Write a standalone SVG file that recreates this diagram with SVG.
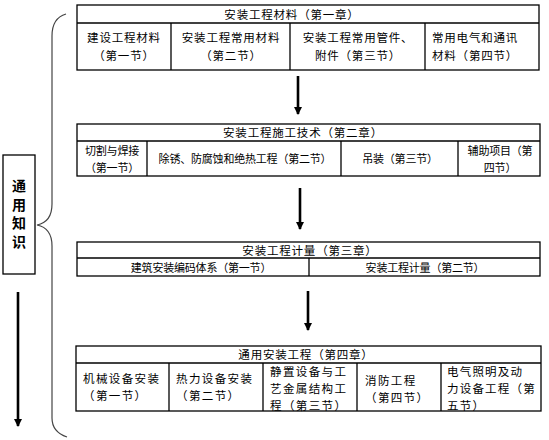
<svg xmlns="http://www.w3.org/2000/svg" width="549" height="440" viewBox="0 0 549 440">
<style>
.box{fill:#fff;stroke:#000;stroke-width:1.3}
.ln{stroke:#000;stroke-width:1.3;fill:none}
text{font-family:"Noto Sans CJK SC","Liberation Sans",sans-serif;font-size:11.5px;letter-spacing:0.8px;fill:#000;dominant-baseline:central}
.c{text-anchor:middle}
.n{font-size:11px;letter-spacing:-0.2px}
.w{letter-spacing:1.4px}
.w2{letter-spacing:1.2px}
.b{font-weight:bold;font-size:14px;writing-mode:vertical-rl;letter-spacing:4.5px;text-anchor:middle;dominant-baseline:auto}
.arr{stroke:#000;stroke-width:2.6;fill:none}
</style>
<defs>
<marker id="ah" viewBox="0 0 8 8" refX="7" refY="4" markerWidth="8" markerHeight="8" markerUnits="userSpaceOnUse" orient="auto">
<path d="M0,0 L8,4 L0,8 Z" fill="#000"/>
</marker>
</defs>

<g id="ch1">
<rect class="box" x="77" y="5" width="462" height="65"/>
<line class="ln" x1="77" y1="23" x2="539" y2="23"/>
<line class="ln" x1="171" y1="23" x2="171" y2="70"/>
<line class="ln" x1="290" y1="23" x2="290" y2="70"/>
<line class="ln" x1="425" y1="23" x2="425" y2="70"/>
<text class="c" x="292" y="14">安装工程材料（第一章）</text>
<text class="c"><tspan x="124" y="37">建设工程材料</tspan><tspan x="124" y="55">（第一节）</tspan></text>
<text class="c"><tspan x="231" y="37">安装工程常用材料</tspan><tspan x="231" y="55">（第二节）</tspan></text>
<text class="c"><tspan x="358" y="37">安装工程常用管件、</tspan><tspan x="358" y="55">附件（第三节）</tspan></text>
<text><tspan x="432" y="37">常用电气和通讯</tspan><tspan x="432" y="55">材料（第四节）</tspan></text>
</g>

<g id="ch2">
<rect class="box" x="77" y="124" width="463" height="52"/>
<line class="ln" x1="77" y1="141" x2="540" y2="141"/>
<line class="ln" x1="147" y1="141" x2="147" y2="176"/>
<line class="ln" x1="341" y1="141" x2="341" y2="176"/>
<line class="ln" x1="458" y1="141" x2="458" y2="176"/>
<text class="c" x="303" y="132">安装工程施工技术（第二章）</text>
<text class="c n"><tspan x="112" y="150">切割与焊接</tspan><tspan x="112" y="167">（第一节）</tspan></text>
<text class="c n" x="245" y="158">除锈、防腐蚀和绝热工程（第二节）</text>
<text class="c n" x="400" y="158">吊装（第三节）</text>
<text class="c n"><tspan x="500" y="150">辅助项目（第</tspan><tspan x="500" y="167">四节）</tspan></text>
</g>

<g id="ch3">
<rect class="box" x="77" y="242" width="463" height="34"/>
<line class="ln" x1="77" y1="258" x2="540" y2="258"/>
<line class="ln" x1="309" y1="258" x2="309" y2="276"/>
<text class="c" x="310" y="250">安装工程计量（第三章）</text>
<text class="c n" x="201" y="267">建筑安装编码体系（第一节）</text>
<text class="c n" x="425" y="267">安装工程计量（第二节）</text>
</g>

<g id="ch4">
<rect class="box" x="76" y="346" width="465" height="65"/>
<line class="ln" x1="76" y1="363" x2="541" y2="363"/>
<line class="ln" x1="169" y1="363" x2="169" y2="411"/>
<line class="ln" x1="263" y1="363" x2="263" y2="411"/>
<line class="ln" x1="357" y1="363" x2="357" y2="411"/>
<line class="ln" x1="441" y1="363" x2="441" y2="411"/>
<text class="c" x="306" y="354">通用安装工程（第四章）</text>
<text class="w"><tspan x="83" y="378">机械设备安装</tspan><tspan x="83" y="395">（第一节）</tspan></text>
<text class="w"><tspan x="176" y="378">热力设备安装</tspan><tspan x="176" y="395">（第二节）</tspan></text>
<text class="w"><tspan x="270" y="371">静置设备与工</tspan><tspan x="270" y="388">艺金属结构工</tspan><tspan x="270" y="405">程（第三节）</tspan></text>
<text class="w"><tspan x="365" y="380">消防工程</tspan><tspan x="365" y="397">（第四节）</tspan></text>
<text class="w2"><tspan x="447" y="371">电气照明及动</tspan><tspan x="447" y="388">力设备工程（第</tspan><tspan x="447" y="405">五节）</tspan></text>
</g>

<g id="general">
<rect class="box" x="3" y="155" width="32" height="119"/>
<text class="b" x="19" y="216">通用知识</text>
</g>

<g id="connectors">
<line class="arr" x1="298" y1="76" x2="298" y2="114" marker-end="url(#ah)"/>
<line class="arr" x1="300" y1="188" x2="300" y2="229" marker-end="url(#ah)"/>
<line class="arr" x1="308" y1="291" x2="308" y2="330" marker-end="url(#ah)"/>
<line class="arr" x1="18" y1="292" x2="18" y2="426" marker-end="url(#ah)"/>
<path d="M66,14 Q52,18 52,36 L52,204 Q52,222 37,225 Q52,228 52,246 L52,418 Q52,432 67,437" stroke="#444" stroke-width="1.2" fill="none"/>
</g>
</svg>
